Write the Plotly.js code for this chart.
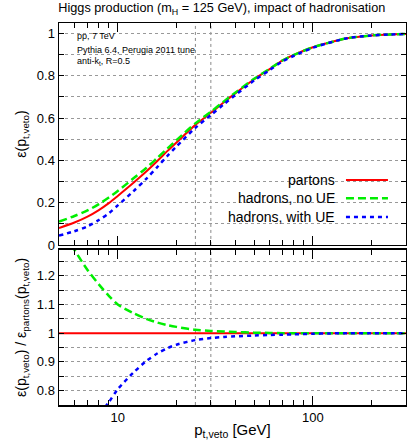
<!DOCTYPE html>
<html>
<head>
<meta charset="utf-8">
<script src="https://cdn.plot.ly/plotly-3.0.1.min.js"></script>
<style>
  html, body { margin: 0; padding: 0; background: #fff; }
  #chart { width: 407px; height: 443px; }
</style>
</head>
<body>
<div id="chart"></div>
<script>
const ptVeto = [5, 6, 7, 8, 9, 10, 12, 14, 16, 18, 20, 25, 30, 35, 40, 50, 60, 70, 80, 100, 120, 150, 200, 250, 300];

// veto efficiency, top panel
const effPartons = [0.080, 0.106, 0.134, 0.165, 0.198, 0.232, 0.293, 0.347, 0.398, 0.445, 0.485, 0.568, 0.625, 0.675, 0.717, 0.784, 0.832, 0.873, 0.899, 0.935, 0.956, 0.978, 0.991, 0.996, 0.998];
const effHadronsNoUE = [0.110, 0.137, 0.163, 0.193, 0.224, 0.255, 0.314, 0.364, 0.413, 0.457, 0.496, 0.575, 0.630, 0.679, 0.720, 0.786, 0.833, 0.873, 0.899, 0.935, 0.956, 0.978, 0.991, 0.996, 0.998];
const effHadronsUE = [0.044, 0.065, 0.088, 0.118, 0.150, 0.187, 0.253, 0.313, 0.370, 0.422, 0.466, 0.554, 0.614, 0.666, 0.709, 0.778, 0.827, 0.869, 0.895, 0.933, 0.955, 0.978, 0.991, 0.996, 0.998];

// ratio to partons, bottom panel
const ratioPartons = [1, 1, 1, 1, 1, 1, 1, 1, 1, 1, 1, 1, 1, 1, 1, 1, 1, 1, 1, 1, 1, 1, 1, 1, 1];
const ratioNoUE = [1.38, 1.29, 1.22, 1.17, 1.13, 1.10, 1.07, 1.05, 1.037, 1.028, 1.022, 1.012, 1.008, 1.006, 1.004, 1.002, 1.001, 1.0, 1.0, 1.0, 1.0, 1.0, 1.0, 1.0, 1.0];
const ratioUE = [0.55, 0.61, 0.66, 0.715, 0.76, 0.805, 0.862, 0.903, 0.93, 0.948, 0.96, 0.976, 0.983, 0.987, 0.989, 0.992, 0.994, 0.995, 0.996, 0.998, 0.999, 1.0, 1.0, 1.0, 1.0];

const seriesNames = ['partons', 'hadrons, no UE', 'hadrons, with UE'];
const seriesColors = ['#ff0000', '#00ee00', '#0000ff'];
const seriesDash = ['solid', '8px,4px', '4px,4px'];
const seriesWidth = [2, 2.5, 2.5];

// reference lines drawn in both panels
const vetoLines = [25, 30];

// ticks
const xMajor = [10, 100];
const xMajorLabels = ['10', '100'];
const xMinor = [5, 6, 7, 8, 9, 20, 30, 40, 50, 60, 70, 80, 90, 200, 300];
const topMajor = [0, 0.2, 0.4, 0.6, 0.8, 1.0];
const topMajorLabels = ['0', '0.2', '0.4', '0.6', '0.8', '1'];
const topMinor = [0.1, 0.3, 0.5, 0.7, 0.9];
const botMajor = [0.8, 0.9, 1.0, 1.1, 1.2];
const botMajorLabels = ['0.8', '0.9', '1', '1.1', '1.2'];
const botMinor = [0.75, 0.85, 0.95, 1.05, 1.15, 1.25];

const FONT = 'Liberation Sans, Arial, Helvetica, sans-serif';

const topData = [effPartons, effHadronsNoUE, effHadronsUE];
const botData = [ratioPartons, ratioNoUE, ratioUE];

const traces = [];
for (let i = 0; i < 3; i++) {
    traces.push({
        x: ptVeto, y: topData[i], xaxis: 'x2', yaxis: 'y',
        type: 'scatter', mode: 'lines', name: seriesNames[i],
        line: { color: seriesColors[i], width: seriesWidth[i], dash: seriesDash[i], shape: 'spline', smoothing: 0.8 },
        showlegend: false
    });
}
for (let i = 0; i < 3; i++) {
    traces.push({
        x: ptVeto, y: botData[i], xaxis: 'x', yaxis: 'y2',
        type: 'scatter', mode: 'lines', name: seriesNames[i],
        line: { color: seriesColors[i], width: seriesWidth[i], dash: seriesDash[i], shape: 'spline', smoothing: 0.8 },
        showlegend: false
    });
}

const xBase = {
    type: 'log',
    range: [Math.log10(5), Math.log10(300)],
    showline: true, linecolor: '#000', linewidth: 1.5, mirror: 'ticks',
    ticks: 'inside', ticklen: 9, tickwidth: 1, tickcolor: '#000',
    tickmode: 'array', tickvals: xMajor, ticktext: xMajorLabels,
    showgrid: false, zeroline: false,
    minor: { tickmode: 'array', tickvals: xMinor, ticks: 'inside', ticklen: 5, tickcolor: '#000', showgrid: false },
    tickfont: { family: FONT, size: 13, color: '#000' }
};

function yAxis(major, labels, minor) {
    return {
        showline: true, linecolor: '#000', linewidth: 1.5, mirror: 'ticks',
        ticks: 'inside', ticklen: 5, tickcolor: '#000',
        tickmode: 'array', tickvals: major, ticktext: labels,
        showgrid: true, gridcolor: '#999', griddash: 'dot', gridwidth: 1,
        minor: { tickmode: 'array', tickvals: minor, ticks: 'inside', ticklen: 5, tickcolor: '#000',
                 showgrid: true, gridcolor: '#999', griddash: 'dot', gridwidth: 1 },
        zeroline: false,
        tickfont: { family: FONT, size: 13, color: '#000' }
    };
}

const shapes = [];
vetoLines.forEach(v => {
    shapes.push({ type: 'line', xref: 'x2', yref: 'y domain', x0: v, x1: v, y0: 0, y1: 1, layer: 'below',
        line: { color: '#888', width: 1, dash: 'dot' } });
    shapes.push({ type: 'line', xref: 'x', yref: 'y2 domain', x0: v, x1: v, y0: 0, y1: 1, layer: 'below',
        line: { color: '#888', width: 1, dash: 'dot' } });
});

// hand-made legend: text right-aligned, line sample on the right (gnuplot style)
const legY = [0.589, 0.541, 0.492];
const annotations = [
    { text: 'pp, 7 TeV', x: 0.045, y: 0.966 },
    { text: 'Pythia 6.4, Perugia 2011 tune', x: 0.045, y: 0.930 },
    { text: 'anti-k<sub>t</sub>, R=0.5', x: 0.045, y: 0.900 }
].map(a => Object.assign(a, {
    xref: 'paper', yref: 'paper', xanchor: 'left', yanchor: 'middle', showarrow: false,
    font: { family: FONT, size: 9, color: '#000' }
}));
for (let i = 0; i < 3; i++) {
    annotations.push({
        text: seriesNames[i], x: 0.801, y: legY[i], xref: 'paper', yref: 'paper',
        xanchor: 'right', yanchor: 'middle', showarrow: false,
        font: { family: FONT, size: 14, color: '#000' }
    });
    shapes.push({ type: 'line', xref: 'paper', yref: 'paper', x0: 0.827, x1: 0.948, y0: legY[i], y1: legY[i],
        line: { color: seriesColors[i], width: seriesWidth[i], dash: seriesDash[i] } });
}

const layout = {
    width: 407, height: 443,
    margin: { l: 59, r: 1, t: 23, b: 38 },
    paper_bgcolor: '#fff', plot_bgcolor: '#fff',
    font: { family: FONT, size: 13, color: '#000' },
    title: {
        text: 'Higgs production (m<sub>H</sub> = 125 GeV), impact of hadronisation',
        x: 0.545, xanchor: 'center', y: 0.992, yanchor: 'top',
        font: { family: FONT, size: 12.7, color: '#000' }
    },
    xaxis: Object.assign({}, xBase, {
        anchor: 'y2',
        title: { text: 'p<sub>t,veto</sub> [GeV]', standoff: 0, font: { family: FONT, size: 15 } }
    }),
    xaxis2: Object.assign({}, xBase, { anchor: 'y', matches: 'x', showticklabels: false }),
    yaxis: Object.assign(yAxis(topMajor, topMajorLabels, topMinor), {
        domain: [0.419, 1], anchor: 'x2', range: [0, 1.05],
        title: { text: 'ε(p<sub>t,veto</sub>)', standoff: 7, font: { family: FONT, size: 14 } }
    }),
    yaxis2: Object.assign(yAxis(botMajor, botMajorLabels, botMinor), {
        domain: [0, 0.406], anchor: 'x', range: [0.75, 1.29],
        title: { text: 'ε(p<sub>t,veto</sub>) / ε<sub>partons</sub>(p<sub>t,veto</sub>)', standoff: 7, font: { family: FONT, size: 14 } }
    }),
    shapes: shapes,
    annotations: annotations,
    showlegend: false
};

Plotly.newPlot('chart', traces, layout, { displayModeBar: false, staticPlot: true });
</script>
</body>
</html>
